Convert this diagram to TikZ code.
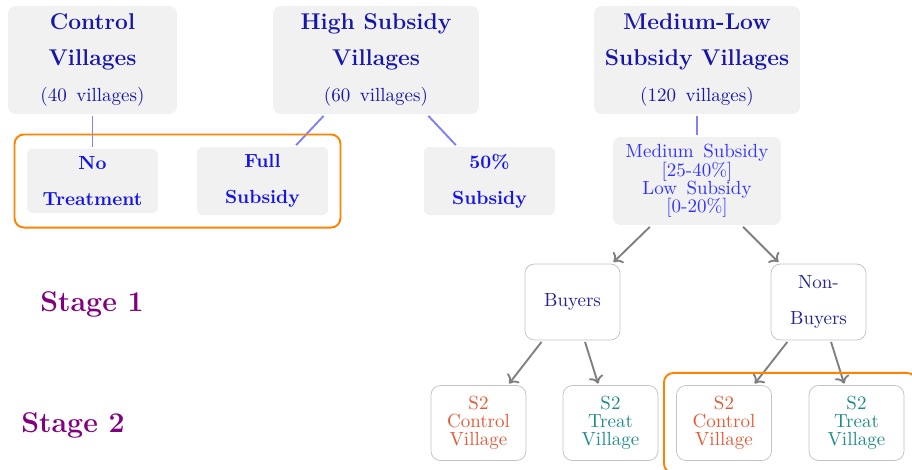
\documentclass[tikz,border=0pt]{standalone}
\usepackage{tikz}
\usetikzlibrary{fit,arrows.meta}

\definecolor{boxgray}{RGB}{241,241,241}
\definecolor{titleblue}{RGB}{22,22,170}
\definecolor{armblue}{RGB}{20,20,232}
\definecolor{medblue}{RGB}{50,50,255}
\definecolor{buyblue}{RGB}{35,35,150}
\definecolor{ctrlred}{RGB}{228,90,55}
\definecolor{treatteal}{RGB}{30,140,140}
\definecolor{stagepurple}{RGB}{128,0,128}
\definecolor{grouporange}{RGB}{255,130,0}
\definecolor{linkblue}{RGB}{128,128,255}
\definecolor{arrowgray}{RGB}{128,128,128}
\definecolor{bordergray}{RGB}{195,195,195}

\begin{document}
\begin{tikzpicture}[x=0.5263pt,y=-0.5263pt,
    titlebox/.style={fill=boxgray,rounded corners=4pt,align=center,text=titleblue,
      font={\fontsize{12}{19}\selectfont\bfseries},inner sep=2pt,outer sep=1pt,
      minimum height=56.8pt},
    armbox/.style={fill=boxgray,rounded corners=3pt,align=center,text=armblue,
      font={\fontsize{10}{19}\selectfont\bfseries},inner sep=2pt,outer sep=1pt,
      minimum width=68.9pt,minimum height=34.7pt},
    medbox/.style={fill=boxgray,rounded corners=4pt,align=center,text=medblue,
      font={\fontsize{10}{9.6}\selectfont\spaceskip=0.5em},inner sep=2pt,outer sep=1pt,
      minimum width=88.4pt,minimum height=46.3pt},
    buybox/.style={draw=bordergray,fill=white,rounded corners=5pt,align=center,
      text=buyblue,font={\fontsize{10}{19}\selectfont},inner sep=2pt,outer sep=1pt,
      minimum width=50pt,minimum height=40pt},
    s2box/.style={draw=bordergray,fill=white,rounded corners=5pt,align=center,
      font={\fontsize{10}{9.5}\selectfont},inner sep=2pt,outer sep=1pt,
      minimum width=50pt,minimum height=39.5pt},
    stagelabel/.style={text=stagepurple,font={\fontsize{15}{18}\selectfont\bfseries}},
    bluelink/.style={line width=1pt,linkblue},
    grayarrow/.style={line width=1pt,arrowgray,-{To[length=4pt,width=8pt]}},
    orangegroup/.style={draw=grouporange,line width=1pt,rounded corners=5pt,inner sep=5.6pt}]
      \clip (0,0) rectangle (912,469) ;
      % villages
      \node[titlebox,minimum width=88.9pt] (ctrl) at (92.5,60)
        {Control\\ Villages\\ {\mdseries\fontsize{10}{19}\selectfont\spaceskip=0.5em (40 villages)}} ;
      \node[titlebox,minimum width=108.4pt] (high) at (376,60)
        {High Subsidy\\ Villages\\ {\mdseries\fontsize{10}{19}\selectfont\spaceskip=0.5em (60 villages)}} ;
      \node[titlebox,minimum width=108.4pt] (medlow) at (697,60)
        {Medium-Low\\ Subsidy Villages\\ {\mdseries\fontsize{10}{19}\selectfont\spaceskip=0.5em (120 villages)}} ;
      % subsidy arms
      \node[armbox,minimum height=33.7pt] (notreat) at (92.5,181) {No\\ Treatment} ;
      \node[armbox,minimum height=35.8pt] (fullsub) at (262.5,181) {Full\\ Subsidy} ;
      \node[armbox,minimum height=35.8pt] (half) at (489.5,181) {50\%\\ Subsidy} ;
      \node[medbox] (medsub) at (697,181)
        {Medium Subsidy\\ {[25-40\%]}\\ Low Subsidy\\ {[0-20\%]}} ;
      % stage 1 outcome
      \node[buybox] (buy) at (572.5,302) {Buyers} ;
      \node[buybox] (nonbuy) at (818.5,302) {Non-\\ Buyers} ;
      % stage 2 villages
      \node[s2box,text=ctrlred] (ctrlA) at (478.5,423) {S2\\ Control\\ Village} ;
      \node[s2box,text=treatteal] (treatA) at (610.5,423) {S2\\ Treat\\ Village} ;
      \node[s2box,text=ctrlred] (ctrlB) at (724,423) {S2\\ Control\\ Village} ;
      \node[s2box,text=treatteal] (treatB) at (856.5,423) {S2\\ Treat\\ Village} ;
      \node[stagelabel] (stage1) at (92,304) {Stage 1} ;
      \node[stagelabel] (stage2) at (73,425) {Stage 2} ;
      % links
      \draw[bluelink] (ctrl) -- (notreat) ;
      \draw[bluelink] (high) -- (fullsub) ;
      \draw[bluelink] (high) -- (half) ;
      \draw[bluelink] (medlow) -- (medsub) ;
      \draw[grayarrow] (medsub) -- (buy) ;
      \draw[grayarrow] (medsub) -- (nonbuy) ;
      \draw[grayarrow] (buy) -- (ctrlA) ;
      \draw[grayarrow] (buy) -- (treatA) ;
      \draw[grayarrow] (nonbuy) -- (ctrlB) ;
      \draw[grayarrow] (nonbuy) -- (treatB) ;
      % highlighted groups
      \node[orangegroup,fit=(notreat) (fullsub)] (groupA) {} ;
      \node[orangegroup,fit=(ctrlB) (treatB)] (groupB) {} ;
    \end{tikzpicture}
\end{document}
